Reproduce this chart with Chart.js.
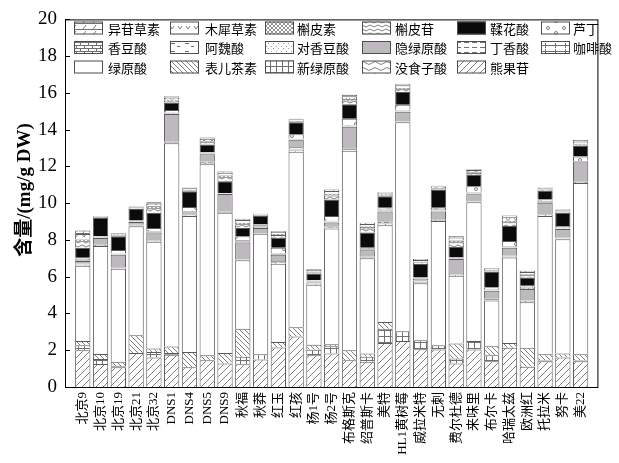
<!DOCTYPE html>
<html>
<head>
<meta charset="utf-8">
<script src="https://cdn.jsdelivr.net/npm/chart.js@4"></script>
<style>
  html, body { margin: 0; padding: 0; background: #fff; }
</style>
</head>
<body>
<canvas id="chart" width="619" height="463"></canvas>
<script>
const varieties = ['北京9', '北京10', '北京19', '北京21', '北京32', 'DNS1', 'DNS4', 'DNS5', 'DNS9', '秋福', '秋莽', '红玉', '红孩', '杨1号', '杨2号', '布格斯克', '绍普斯卡', '美特', 'HL1黄树莓', '威拉米特', '无刺', '费尔杜德', '来味里', '布尔卡', '哈瑞太兹', '欧洲红', '托拉米', '努卡', '美22'];

const yTicks = [0, 2, 4, 6, 8, 10, 12, 14, 16, 18, 20];
const yTitle = '含量/(mg/g DW)';

// mg/g DW, one value per variety
const isoliquiritigenin = [0.19, 0.02, 0.03, 0.03, 0.07, 0.07, 0.04, 0.07, 0.08, 0.07, 0.02, 0.05, 0.04, 0.04, 0.07, 0.08, 0.07, 0.04, 0.08, 0.05, 0.04, 0.08, 0.05, 0.04, 0.09, 0.06, 0.04, 0.04, 0.08];
const luteolin = [0.3, 0.03, 0.06, 0.05, 0.15, 0.12, 0.09, 0.13, 0.14, 0.15, 0.04, 0.12, 0.07, 0.08, 0.15, 0.15, 0.15, 0.08, 0.15, 0.1, 0.08, 0.17, 0.1, 0.06, 0.2, 0.12, 0.06, 0.06, 0.12];
const quercetin = [0.1, 0.02, 0.03, 0.03, 0.1, 0.05, 0.03, 0.05, 0.1, 0.08, 0.02, 0.05, 0.03, 0.04, 0.1, 0.08, 0.1, 0.04, 0.07, 0.04, 0.03, 0.1, 0.05, 0.03, 0.08, 0.06, 0.03, 0.03, 0.04];
const quercitrin = [0.35, 0.04, 0.06, 0.05, 0.25, 0.1, 0.05, 0.12, 0.22, 0.2, 0.04, 0.15, 0.06, 0.07, 0.22, 0.2, 0.22, 0.07, 0.15, 0.08, 0.06, 0.25, 0.1, 0.05, 0.2, 0.12, 0.05, 0.05, 0.06];
const ellagicAcid = [0.55, 0.97, 0.74, 0.62, 0.83, 0.41, 0.85, 0.43, 0.63, 0.45, 0.44, 0.55, 0.65, 0.36, 0.9, 0.79, 0.82, 0.63, 0.7, 0.73, 0.99, 0.57, 0.63, 0.87, 0.81, 0.45, 0.48, 0.72, 0.6];
const rutin = [0.05, 0.03, 0.2, 0.02, 0.16, 0.13, 0.23, 0.02, 0, 0.22, 0.06, 0.28, 0.24, 0.02, 0.26, 0.35, 0.02, 0.05, 0.29, 0, 0.08, 0, 0.34, 0.09, 0.28, 0, 0.06, 0.07, 0.24];
const coumaricAcid = [0.03, 0.03, 0.02, 0.02, 0.03, 0.03, 0.04, 0.03, 0.02, 0.04, 0.05, 0.03, 0.02, 0.02, 0.03, 0.03, 0.04, 0.05, 0.03, 0.02, 0.04, 0.03, 0.03, 0.03, 0.03, 0.06, 0.04, 0.03, 0.01];
const ferulicAcid = [0.05, 0.03, 0.02, 0.02, 0.03, 0.03, 0.04, 0.03, 0.02, 0.04, 0.05, 0.03, 0.02, 0.02, 0.03, 0.03, 0.04, 0.05, 0.03, 0.02, 0.04, 0.03, 0.03, 0.03, 0.03, 0.06, 0.04, 0.03, 0.01];
const pCoumaricAcid = [0.05, 0.03, 0.02, 0.02, 0.03, 0.03, 0.04, 0.03, 0.02, 0.04, 0.05, 0.03, 0.02, 0.02, 0.03, 0.03, 0.04, 0.05, 0.03, 0.02, 0.04, 0.03, 0.03, 0.03, 0.03, 0.06, 0.04, 0.03, 0.01];
const cryptochlorogenicAcid = [0.15, 0.33, 0.7, 0.15, 0.4, 1.5, 0.05, 0.4, 0.93, 0.9, 0.27, 0.34, 0.4, 0.06, 0.22, 1.17, 0.36, 0.55, 0.5, 0.1, 0.42, 0.81, 0.39, 0.44, 0.44, 0.63, 0.62, 0.48, 1.08];
const syringicAcid = [0.05, 0.05, 0.04, 0.04, 0.05, 0.04, 0.05, 0.06, 0.05, 0.03, 0.02, 0.08, 0.13, 0.06, 0.05, 0.06, 0.03, 0.1, 0.02, 0.08, 0.05, 0.05, 0.02, 0.02, 0.05, 0.01, 0.02, 0.04, 0.04];
const caffeicAcid = [0.05, 0.05, 0.03, 0.04, 0.05, 0.05, 0.05, 0.08, 0.04, 0.03, 0.02, 0.08, 0.12, 0.06, 0.05, 0.07, 0.04, 0.1, 0.05, 0.08, 0.05, 0.05, 0.03, 0.08, 0.05, 0.08, 0.08, 0.04, 0.05];
const chlorogenicAcid = [4.1, 5.88, 5.05, 5.93, 5.8, 11.06, 7.4, 10.39, 7.63, 3.73, 6.56, 4.25, 9.55, 3.26, 6.31, 10.86, 5.19, 5.27, 11.37, 3.09, 6.76, 3.69, 7.55, 2.48, 4.64, 2.47, 7.52, 6.22, 9.32];
const epicatechin = [0.23, 0.27, 0.25, 0.97, 0.2, 0.35, 0.82, 0.28, 0.57, 1.53, 0, 0.3, 0.5, 0.27, 0.1, 0.55, 0.18, 0.36, 0, 0, 0, 0.81, 0, 0.49, 0.26, 1.04, 0.32, 0.22, 0.33];
const neochlorogenicAcid = [0.27, 0.27, 0.05, 0, 0.3, 0.1, 0, 0, 0, 0.4, 0.28, 0, 0, 0.3, 0.4, 0, 0.27, 0.77, 0.53, 0.5, 0.23, 0.27, 0.46, 0.33, 0, 0, 0, 0, 0];
const gallicAcid = [0, 0, 0, 0, 0, 0, 0, 0, 0, 0, 0, 0, 0, 0, 0, 0, 0, 0, 0, 0, 0, 0, 0, 0, 0, 0, 0.06, 0, 0.05];
const arbutin = [2.0, 1.25, 1.08, 1.85, 1.6, 1.75, 1.08, 1.45, 1.28, 1.24, 1.5, 2.15, 2.75, 1.73, 1.82, 1.45, 1.37, 2.4, 2.5, 2.05, 2.04, 1.28, 2.04, 1.4, 2.14, 1.1, 1.4, 1.6, 1.4];

// legend order (row by row); bars stack the other way round
const seriesNames = ['异苷草素', '木犀草素', '槲皮素', '槲皮苷', '鞣花酸', '芦丁',
                     '香豆酸', '阿魏酸', '对香豆酸', '隐绿原酸', '丁香酸', '咖啡酸',
                     '绿原酸', '表儿茶素', '新绿原酸', '没食子酸', '熊果苷'];
const seriesValues = [isoliquiritigenin, luteolin, quercetin, quercitrin, ellagicAcid, rutin,
                      coumaricAcid, ferulicAcid, pCoumaricAcid, cryptochlorogenicAcid, syringicAcid, caffeicAcid,
                      chlorogenicAcid, epicatechin, neochlorogenicAcid, gallicAcid, arbutin];

const canvas = document.getElementById('chart');
const ctx = canvas.getContext('2d');
const INK = '#707070';

function tile(w, h, draw) {
  const c = document.createElement('canvas');
  c.width = w; c.height = h;
  const g = c.getContext('2d');
  g.fillStyle = '#fff';
  g.fillRect(0, 0, w, h);
  g.strokeStyle = INK;
  g.fillStyle = INK;
  g.lineWidth = 0.9;
  draw(g);
  return ctx.createPattern(c, 'repeat');
}
function path(g, pts) {
  g.beginPath();
  g.moveTo(pts[0], pts[1]);
  for (let i = 2; i < pts.length; i += 2) g.lineTo(pts[i], pts[i + 1]);
  g.stroke();
}

const fills = {
  '异苷草素': tile(10, 6, g => { g.fillRect(0, 5, 10, 1); path(g, [3, 5, 6, 1]); }),
  '木犀草素': tile(8, 8, g => { path(g, [2, 2, 4, 5, 6, 2]); }),
  '槲皮素': tile(4, 4, g => { g.strokeStyle = '#8a8a8a'; path(g, [0, 0, 4, 4]); path(g, [0, 4, 4, 0]); }),
  '槲皮苷': tile(8, 4, g => { g.beginPath(); g.moveTo(0, 2); g.quadraticCurveTo(2, 0, 4, 2); g.quadraticCurveTo(6, 4, 8, 2); g.stroke(); }),
  '鞣花酸': '#0b0b0b',
  '芦丁': tile(16, 12, g => { g.beginPath(); g.arc(4, 4, 1.5, 0, Math.PI * 2); g.stroke(); g.beginPath(); g.arc(12, 9, 1.5, 0, Math.PI * 2); g.stroke(); }),
  '香豆酸': tile(8, 6, g => { g.fillRect(0, 0, 8, 1); g.fillRect(0, 3, 8, 1); g.fillRect(0, 0, 1, 3); g.fillRect(4, 3, 1, 3); }),
  '阿魏酸': tile(14, 8, g => { g.fillRect(3, 3, 4, 1); g.fillRect(9, 6, 3, 1); }),
  '对香豆酸': tile(5, 5, g => { g.fillStyle = '#9a9a9a'; g.fillRect(1, 1, 1, 1); g.fillRect(3, 3, 1, 1); }),
  '隐绿原酸': '#bdb9be',
  '丁香酸': tile(8, 5, g => { g.fillRect(0, 2, 5, 1); }),
  '咖啡酸': tile(10, 6, g => { g.fillRect(0, 3, 10, 1); g.fillRect(5, 1, 1, 5); }),
  '绿原酸': '#ffffff',
  '表儿茶素': tile(5, 5, g => { path(g, [0, 0, 5, 5]); path(g, [-1, 4, 1, 6]); path(g, [4, -1, 6, 1]); }),
  '新绿原酸': tile(6, 6, g => { g.fillRect(0, 0, 6, 1); g.fillRect(0, 0, 1, 6); }),
  '没食子酸': tile(12, 6, g => { g.beginPath(); g.moveTo(0, 3); g.quadraticCurveTo(3, 0, 6, 3); g.quadraticCurveTo(9, 6, 12, 3); g.stroke(); }),
  '熊果苷': tile(7, 7, g => { path(g, [0, 7, 7, 0]); path(g, [-1, 1, 1, -1]); path(g, [6, 8, 8, 6]); })
};

// stack from the bottom: reverse of the legend order
const datasets = seriesNames.map((name, i) => ({
  label: name,
  data: [null, ...seriesValues[i], null],
  backgroundColor: fills[name],
  borderColor: '#5a5a5a',
  borderWidth: 1,
  barPercentage: 0.86,
  categoryPercentage: 1
})).reverse();

const serif = "'Liberation Serif', 'Noto Sans CJK SC', serif";

// frame round the plot, inward y ticks, y title, and the legend in a 6-column grid
const framePlugin = {
  id: 'frame',
  afterDraw(chart) {
    const { ctx, chartArea: a, scales: { y } } = chart;
    ctx.save();
    ctx.strokeStyle = '#000';
    ctx.lineWidth = 1;
    ctx.strokeRect(a.left + 0.5, a.top + 0.5, a.right - a.left - 1, a.bottom - a.top);
    yTicks.forEach(v => {
      const py = Math.round(y.getPixelForValue(v)) + 0.5;
      ctx.beginPath();
      ctx.moveTo(a.left, py);
      ctx.lineTo(a.left + 5, py);
      ctx.stroke();
    });

    ctx.save();
    ctx.translate(25, 190);
    ctx.rotate(-Math.PI / 2);
    ctx.font = 'bold 19px ' + serif;
    ctx.textAlign = 'center';
    ctx.textBaseline = 'middle';
    ctx.fillStyle = '#000';
    ctx.fillText(yTitle, 0, 0);
    ctx.restore();

    const swatchX = [74, 170, 265, 362, 457, 541];
    const textX = [108, 205, 297, 395, 490, 573];
    const rowY = [28, 47.5, 67];
    ctx.font = "13px 'Noto Sans CJK SC', sans-serif";
    ctx.textBaseline = 'middle';
    seriesNames.forEach((name, k) => {
      const col = k % 6, row = Math.floor(k / 6);
      const sy = rowY[row] - 6.5;
      ctx.fillStyle = fills[name];
      ctx.fillRect(swatchX[col], sy, 29, 13);
      ctx.strokeStyle = '#4d4d4d';
      ctx.strokeRect(swatchX[col] + 0.5, sy + 0.5, 28, 12);
      ctx.fillStyle = '#000';
      ctx.fillText(name, textX[col], rowY[row] + 1);
    });
    ctx.restore();
  }
};

Chart.defaults.color = '#000';

new Chart(ctx, {
  type: 'bar',
  data: { labels: ['', ...varieties, ''], datasets },
  options: {
    responsive: false,
    animation: false,
    layout: { padding: { top: 17, right: 4, left: 0, bottom: 0 } },
    plugins: { legend: { display: false }, tooltip: { enabled: false } },
    scales: {
      x: {
        stacked: true,
        offset: false,
        grid: { display: false, drawTicks: false },
        border: { display: false },
        ticks: { autoSkip: false, minRotation: 90, maxRotation: 90, padding: 5, font: { family: serif, size: 13 } },
        afterFit(scale) { scale.height = 76; }
      },
      y: {
        stacked: true,
        min: 0,
        max: 20,
        grid: { display: false, drawTicks: false },
        border: { display: false },
        ticks: { stepSize: 2, padding: 8, font: { family: serif, size: 19 } },
        afterFit(scale) { scale.width = 65; }
      }
    }
  },
  plugins: [framePlugin]
});
</script>
</body>
</html>
